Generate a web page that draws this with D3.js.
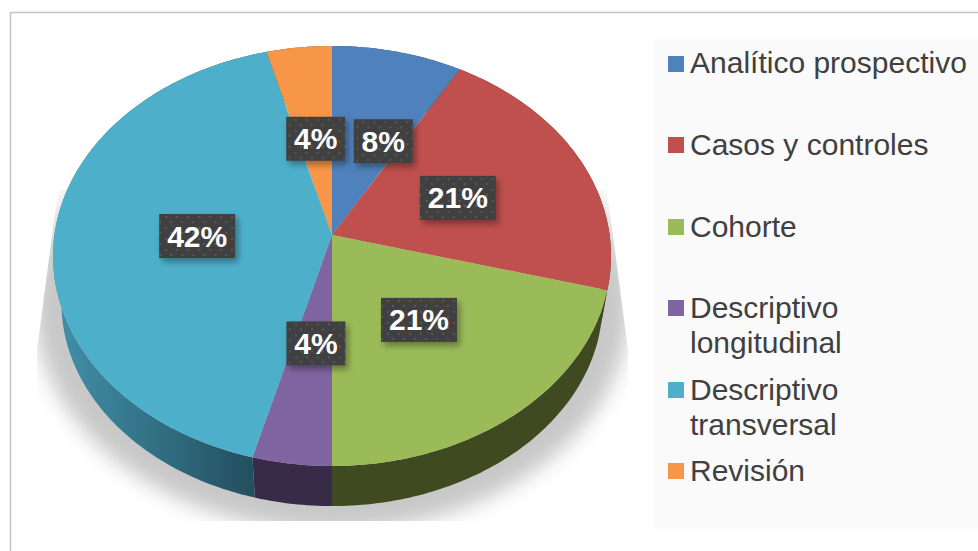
<!DOCTYPE html>
<html lang="es">
    <head>
        <meta charset="utf-8">
        <title>Tipos de estudio</title>
        <script type="text/javascript" src="https://d3js.org/d3.v7.min.js"></script>
        <style type="text/css">
          html, body { margin: 0; padding: 0; background: #fff; }
          svg { display: block; }
          text { font-family: "Liberation Sans", Arial, sans-serif; }
        </style>
    </head>
    <body>
        <svg width="978" height="551"></svg>
        <script type="text/javascript">

            //Our data
            const categories = ["Analítico prospectivo", "Casos y controles", "Cohorte",
                                "Descriptivo longitudinal", "Descriptivo transversal", "Revisión"];
            const values = [2, 5, 5, 1, 10, 1];
            const topColors = ["#4f81bd", "#c0504d", "#9bbb59", "#8064a2", "#4dafca", "#f79646"];
            const sideColors = ["#2a4466", "#66292a", "#3f4a20", "#372b47", "url(#tealSide)", "#7a4a22"];

            const svg = d3.select("svg");
            const defs = svg.append("defs");

            //Layout
            const cx = 332, cy = 235;
            const radiusX = 277.6, radiusY = 207.9, tilt = 0.1;
            const lowerY = 282, lowerScale = 0.97;
            const labelNudge = [[17, 2], [0, 2], [-1, -1], [3, 0], [4, 1], [1, 2]];

            const color = d3.scaleOrdinal().domain(categories).range(topColors);
            const sideColor = d3.scaleOrdinal().domain(categories).range(sideColors);

            const pie = d3.pie().sort(null);
            const slices = pie(values);
            const total = d3.sum(values);
            const pct = d3.format(".0%");

            //perspective: point on the unit disc to the screen
            function project(angle, r, lower) {
                const u = r * Math.sin(angle), v = r * Math.cos(angle);
                const w = 1 + tilt * v;
                const s = lower ? lowerScale : 1;
                return [cx + s * radiusX * u / w, (lower ? lowerY : cy) - s * radiusY * v / w];
            }

            function rim(d, lower) {
                const n = Math.ceil((d.endAngle - d.startAngle) * 60);
                return d3.range(n + 1).map(i => project(d.startAngle + (d.endAngle - d.startAngle) * i / n, 1, lower));
            }

            const line = d3.line();

            //Shadow under the pie
            defs.append("filter").attr("id", "shadowBlur")
                .attr("x", "-20%").attr("y", "-20%").attr("width", "140%").attr("height", "140%")
                .append("feGaussianBlur").attr("stdDeviation", 10);
            defs.append("clipPath").attr("id", "shadowClip")
                .append("polygon").attr("points", "58,190 37,350 37,521 628,521 628,350 607,190");
            svg.append("g").attr("clip-path", "url(#shadowClip)")
               .append("ellipse")
               .attr("cx", cx).attr("cy", 305)
               .attr("rx", 298).attr("ry", 226)
               .attr("fill", "#c8c8c8")
               .attr("filter", "url(#shadowBlur)");

            //Teal side goes darker to the right
            const tealSide = defs.append("linearGradient").attr("id", "tealSide")
                .attr("gradientUnits", "userSpaceOnUse")
                .attr("x1", 60).attr("x2", 254).attr("y1", 0).attr("y2", 0);
            tealSide.append("stop").attr("offset", "0%").attr("stop-color", "#418fa8");
            tealSide.append("stop").attr("offset", "100%").attr("stop-color", "#224f5e");

            //Sides
            svg.append("g").selectAll("path")
               .data(slices)
               .join("path")
               .attr("d", d => line(rim(d, false).concat(rim(d, true).reverse())) + "Z")
               .attr("fill", (d, i) => sideColor(categories[i]));

            //Top
            svg.append("g").selectAll("path")
               .data(slices)
               .join("path")
               .attr("d", d => line([[cx, cy]].concat(rim(d, false))) + "Z")
               .attr("fill", (d, i) => color(categories[i]));

            //Data labels
            const dots = defs.append("pattern").attr("id", "dots")
                .attr("patternUnits", "userSpaceOnUse")
                .attr("width", 11).attr("height", 11);
            dots.append("rect").attr("width", 11).attr("height", 11).attr("fill", "#404040");
            dots.append("rect").attr("x", 1).attr("y", 2).attr("width", 2).attr("height", 2).attr("fill", "#575757");
            dots.append("rect").attr("x", 6).attr("y", 7).attr("width", 2).attr("height", 2).attr("fill", "#575757");

            const boxShadow = defs.append("filter").attr("id", "boxShadow")
                .attr("x", "-30%").attr("y", "-30%").attr("width", "160%").attr("height", "170%");
            boxShadow.append("feDropShadow")
                .attr("dx", 3).attr("dy", 4).attr("stdDeviation", 3)
                .attr("flood-color", "#000").attr("flood-opacity", 0.35);

            const labels = svg.append("g").selectAll("g")
               .data(slices)
               .join("g")
               .attr("transform", (d, i) => {
                   const p = project((d.startAngle + d.endAngle) / 2, 0.5, false);
                   return "translate(" + (p[0] + labelNudge[i][0]) + "," + (p[1] + labelNudge[i][1]) + ")";
               });

            labels.append("rect")
               .attr("x", d => -(d.value / total >= 0.095 ? 38 : 29.5))
               .attr("y", -22)
               .attr("width", d => d.value / total >= 0.095 ? 76 : 59)
               .attr("height", 44)
               .attr("fill", "url(#dots)")
               .attr("filter", "url(#boxShadow)");

            labels.append("text")
               .attr("text-anchor", "middle")
               .attr("y", 10.5)
               .attr("fill", "#fff")
               .attr("font-weight", "bold")
               .attr("font-size", 30)
               .text(d => pct(d.value / total));

            //Legend
            svg.append("rect")
               .attr("x", 654).attr("y", 39)
               .attr("width", 330).attr("height", 490)
               .attr("rx", 4)
               .attr("fill", "#fafafa");

            const legendLines = [["Analítico prospectivo"], ["Casos y controles"], ["Cohorte"],
                                 ["Descriptivo", "longitudinal"], ["Descriptivo", "transversal"], ["Revisión"]];
            const legendY = [73, 155, 237, 318, 400, 481];

            const legend = svg.append("g").selectAll("g")
               .data(categories)
               .join("g")
               .attr("transform", (d, i) => "translate(0," + legendY[i] + ")");

            legend.append("rect")
               .attr("x", 668).attr("y", d => d === categories[0] ? -17 : -18)
               .attr("width", 16).attr("height", 16)
               .attr("fill", d => color(d));

            legend.append("text")
               .attr("fill", "#404040")
               .attr("font-size", 30)
               .selectAll("tspan")
               .data((d, i) => legendLines[i])
               .join("tspan")
               .attr("x", 690)
               .attr("y", (d, i) => i * 35)
               .text(d => d);

            //Chart border
            svg.append("path")
               .attr("d", "M10.5,551V12.5H978")
               .attr("fill", "none")
               .attr("stroke", "#c4c4c4")
               .attr("stroke-width", 1.5);

        </script>
    </body>
</html>
